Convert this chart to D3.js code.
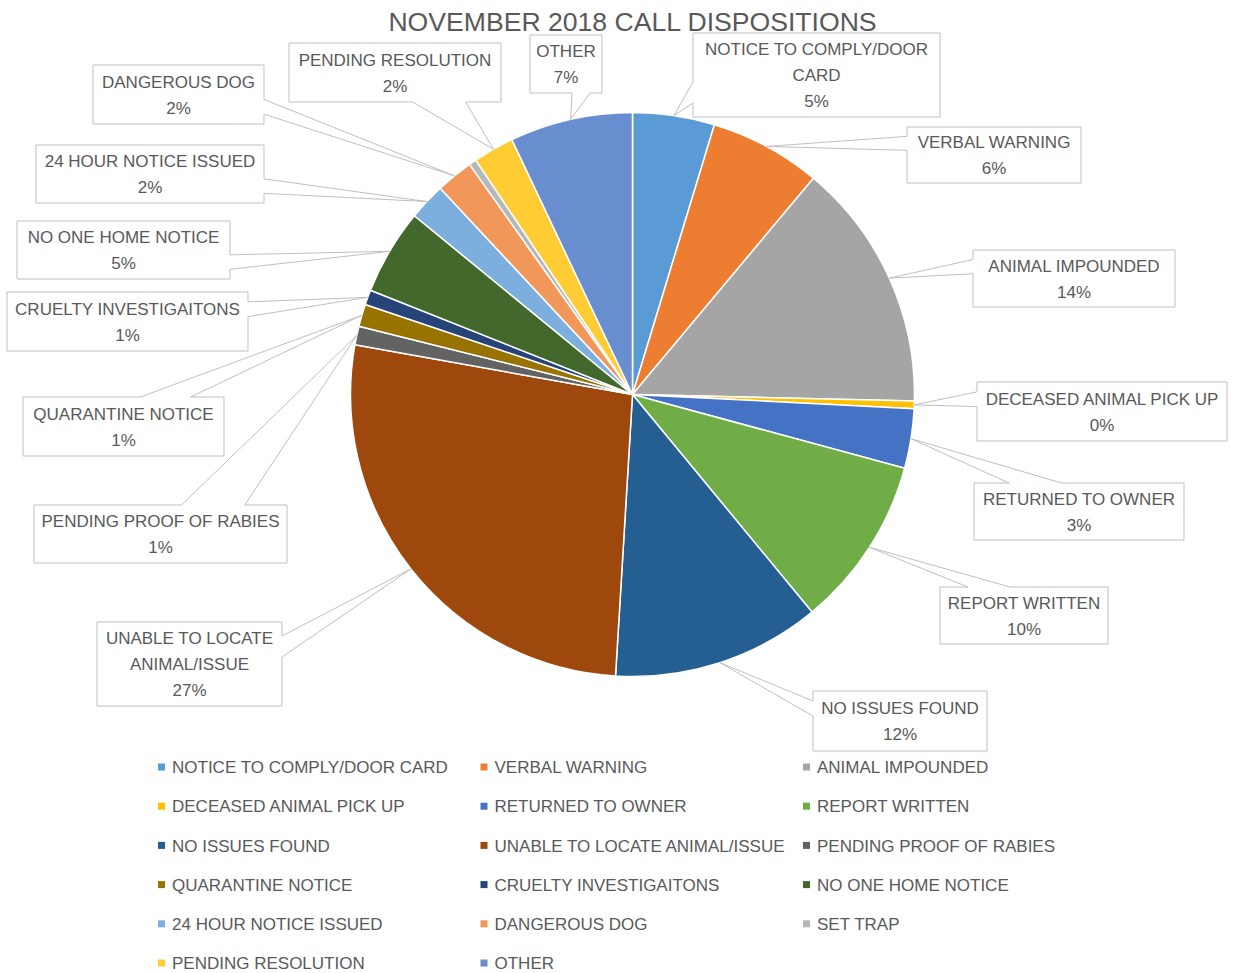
<!DOCTYPE html>
<meta charset="utf-8">
<head></head>
<body style="margin:0; background:#fff;">
<!-- Load d3.js -->
<script src="https://d3js.org/d3.v7.min.js"></script>

<div id="my_dataviz"></div>

<script>
    // slices go clockwise from 12 o'clock, in this order
    var categories = [
      "NOTICE TO COMPLY/DOOR CARD", "VERBAL WARNING", "ANIMAL IMPOUNDED",
      "DECEASED ANIMAL PICK UP", "RETURNED TO OWNER", "REPORT WRITTEN",
      "NO ISSUES FOUND", "UNABLE TO LOCATE ANIMAL/ISSUE", "PENDING PROOF OF RABIES",
      "QUARANTINE NOTICE", "CRUELTY INVESTIGAITONS", "NO ONE HOME NOTICE",
      "24 HOUR NOTICE ISSUED", "DANGEROUS DOG", "SET TRAP",
      "PENDING RESOLUTION", "OTHER"
    ];
    // call counts
    var counts = [22, 30, 67, 2, 16, 46, 56, 126, 5, 6, 4, 23, 10, 10, 2, 11, 33];

    var colors = [
      "#5B9BD5", "#ED7D31", "#A5A5A5", "#FFC000", "#4472C4", "#70AD47",
      "#255E91", "#9E480E", "#636363", "#997300", "#264478", "#43682B",
      "#7CAFDD", "#F1975A", "#B7B7B7", "#FFCD33", "#698ED0"
    ];

    // callout boxes [left, top, width, height], null = slice has no label
    var labelBoxes = [
      [693, 33, 247, 84], [907, 127, 174, 56], [973, 250, 202, 57],
      [977, 382, 250, 59], [974, 483, 210, 57], [940, 587, 168, 57],
      [813, 691, 174, 60], [97, 622, 185, 84], [34, 505, 253, 58],
      [23, 397, 201, 59], [7, 292, 241, 59], [17, 221, 213, 58],
      [36, 145, 228, 58], [93, 65, 171, 59], null,
      [289, 43, 212, 59], [530, 35, 72, 58]
    ];

    var width = 1234, height = 973;
    var cx = 632.5, cy = 394.5, radius = 282;
    var font = "'Liberation Sans', Arial, sans-serif";
    var textColor = "#595959";

    var svg = d3.select("#my_dataviz")
      .append("svg")
        .attr("width", width)
        .attr("height", height)
        .style("font-family", font);

    // title
    svg.append("text")
      .attr("x", cx)
      .attr("y", 31)
      .attr("text-anchor", "middle")
      .attr("font-size", "26.6px")
      .attr("fill", textColor)
      .text("NOVEMBER 2018 CALL DISPOSITIONS");

    var data = categories.map(function(c, i) { return {name: c, value: counts[i], color: colors[i], box: labelBoxes[i]}; });
    var total = d3.sum(counts);
    var pct = d3.format(".0%");

    var pie = d3.pie().sort(null).value(function(d) { return d.value; });
    var arc = d3.arc().innerRadius(0).outerRadius(radius);
    var arcs = pie(data);

    var g = svg.append("g").attr("transform", "translate(" + cx + "," + cy + ")");
    g.selectAll("path")
      .data(arcs)
      .enter().append("path")
        .attr("d", arc)
        .attr("fill", function(d) { return d.data.color; })
        .attr("stroke", "#fff")
        .attr("stroke-width", 1.5)
        .attr("stroke-linejoin", "round");

    // Excel style wedge-rect callout: box plus a pointer to the slice edge
    function calloutPath(b, tx, ty) {
      var l = b[0], t = b[1], w = b[2], h = b[3], r = l + w, bt = t + h;
      var dxPos = tx - (l + w / 2), dyPos = ty - (t + h / 2);
      var dxy = Math.abs(dxPos * h) - Math.abs(dyPos * w);
      var x1 = l + w * (dxPos > 0 ? 7 : 2) / 12, x2 = l + w * (dxPos > 0 ? 10 : 5) / 12;
      var y1 = t + h * (dyPos > 0 ? 7 : 2) / 12, y2 = t + h * (dyPos > 0 ? 10 : 5) / 12;
      var p = d3.path();
      p.moveTo(l, t);
      p.lineTo(x1, t);
      if (dxy <= 0 && dyPos < 0) p.lineTo(tx, ty);
      p.lineTo(x2, t); p.lineTo(r, t);
      p.lineTo(r, y1);
      if (dxy > 0 && dxPos > 0) p.lineTo(tx, ty);
      p.lineTo(r, y2); p.lineTo(r, bt);
      p.lineTo(x2, bt);
      if (dxy <= 0 && dyPos > 0) p.lineTo(tx, ty);
      p.lineTo(x1, bt); p.lineTo(l, bt);
      p.lineTo(l, y2);
      if (dxy > 0 && dxPos < 0) p.lineTo(tx, ty);
      p.lineTo(l, y1);
      p.closePath();
      return p.toString();
    }

    var labels = svg.append("g").attr("class", "labels");
    arcs.forEach(function(a) {
      var b = a.data.box;
      if (!b) return;
      var mid = (a.startAngle + a.endAngle) / 2;
      var tx = cx + radius * Math.sin(mid), ty = cy - radius * Math.cos(mid);
      labels.append("path")
        .attr("d", calloutPath(b, tx, ty))
        .attr("fill", "none")
        .attr("stroke", "#BFBFBF")
        .attr("stroke-width", 1);

      // word wrap the name to the box width
      var words = a.data.name.split(" "), lines = [], cur = "";
      var probe = labels.append("text").attr("font-size", "17px");
      words.forEach(function(wd) {
        var test = cur ? cur + " " + wd : wd;
        probe.text(test);
        if (cur && probe.node().getComputedTextLength() > b[2] - 6) { lines.push(cur); cur = wd; }
        else cur = test;
      });
      lines.push(cur);
      probe.remove();
      lines.push(pct(a.data.value / total));

      var lh = 26, top = b[1] + b[3] / 2 - (lines.length - 1) * lh / 2;
      labels.append("g").selectAll("text")
        .data(lines)
        .enter().append("text")
          .attr("x", b[0] + b[2] / 2)
          .attr("y", function(d, i) { return top + i * lh; })
          .attr("dy", "0.36em")
          .attr("text-anchor", "middle")
          .attr("font-size", "17px")
          .attr("fill", textColor)
          .text(function(d) { return d; });
    });

    // legend, 3 columns
    var colX = d3.scalePoint().domain([0, 1, 2]).range([158, 803]);
    var rowY = d3.scaleLinear().domain([0, 5]).range([767, 963]);
    var legend = svg.append("g").attr("class", "legend")
      .selectAll("g")
      .data(data)
      .enter().append("g")
        .attr("transform", function(d, i) { return "translate(" + colX(i % 3) + "," + rowY(Math.floor(i / 3)) + ")"; });
    legend.append("rect")
      .attr("x", 0).attr("y", -3.5)
      .attr("width", 7).attr("height", 7)
      .attr("fill", function(d) { return d.color; });
    legend.append("text")
      .attr("x", 14)
      .attr("dy", "0.36em")
      .attr("font-size", "17px")
      .attr("fill", textColor)
      .text(function(d) { return d.name; });
</script>
</body>
